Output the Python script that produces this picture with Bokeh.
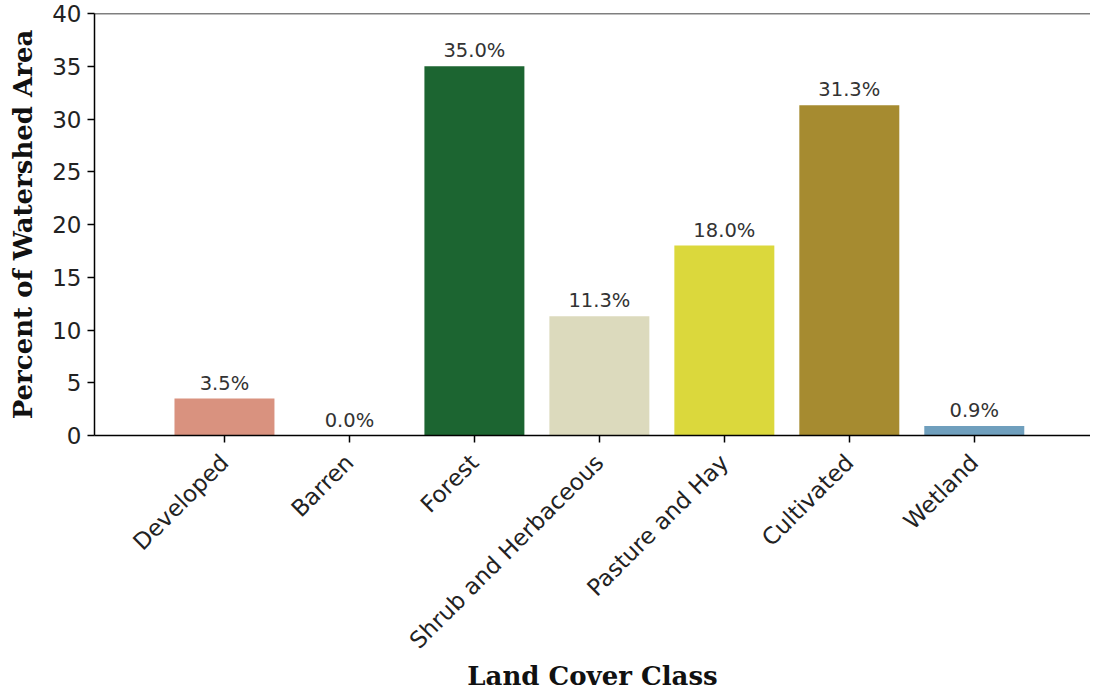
from math import pi
from bokeh.plotting import figure
from bokeh.models import FixedTicker, Span, Range1d, ColumnDataSource
from bokeh.core.properties import value
from bokeh.embed import file_html
from bokeh.resources import INLINE

categories = ["Developed", "Barren", "Forest", "Shrub and Herbaceous",
              "Pasture and Hay", "Cultivated", "Wetland"]
percents = [3.5, 0.0, 35.0, 11.3, 18.0, 31.3, 0.9]
colors = ["#d9927f", "#b3aca3", "#1c6531", "#dcdabd", "#dbd83c", "#a68b30", "#6f9fbd"]
y_ticks = [0, 5, 10, 15, 20, 25, 30, 35, 40]

idx = list(range(len(categories)))
labels = [f"{v:.1f}%" for v in percents]
src = ColumnDataSource(dict(x=idx, top=percents, color=colors, label=labels))

p = figure(width=1090, height=694, output_backend="svg", toolbar_location=None,
           x_range=Range1d(-1.04, 6.93), y_range=Range1d(0, 40),
           min_border_left=94, min_border_right=0, min_border_top=13,
           min_border_bottom=259)
p.outline_line_color = None
p.grid.visible = False
p.background_fill_color = "white"
p.border_fill_color = "white"

p.vbar(x="x", top="top", width=0.8, bottom=0, color="color", line_color=None, source=src)
p.text(x="x", y="top", text="label", source=src, text_align="center",
       text_baseline="bottom", y_offset=-4, text_font=value("DejaVu Sans"),
       text_font_size="19.5px", text_color="#333333")

p.add_layout(Span(location=40, dimension="width", line_color="black", line_width=1.5))

for ax in (p.xaxis[0], p.yaxis[0]):
    ax.axis_line_width = 1.5
    ax.axis_line_color = "black"
    ax.major_tick_line_width = 1.5
    ax.major_tick_line_color = "black"
    ax.major_tick_out = 7
    ax.major_tick_in = 0
    ax.minor_tick_line_color = None
    ax.major_label_text_font = "DejaVu Sans"
    ax.major_label_text_font_size = "23px"
    ax.major_label_text_color = "#222222"
    ax.axis_label_text_font = "DejaVu Serif"
    ax.axis_label_text_font_style = "bold"
    ax.axis_label_text_font_size = "26px"
    ax.axis_label_text_color = "#111111"

p.xaxis.ticker = FixedTicker(ticks=idx)
p.xaxis.major_label_overrides = {i: c for i, c in zip(idx, categories)}
p.xaxis.major_label_orientation = pi / 4
p.xaxis.major_label_standoff = 16
p.xaxis.axis_label = "Land Cover Class"
p.xaxis.axis_label_standoff = -5

p.yaxis.ticker = FixedTicker(ticks=y_ticks)
p.yaxis.major_label_standoff = 6
p.yaxis.axis_label = "Percent of Watershed Area"
p.yaxis.axis_label_standoff = 11

open("out.html", "w").write(file_html(p, INLINE))
